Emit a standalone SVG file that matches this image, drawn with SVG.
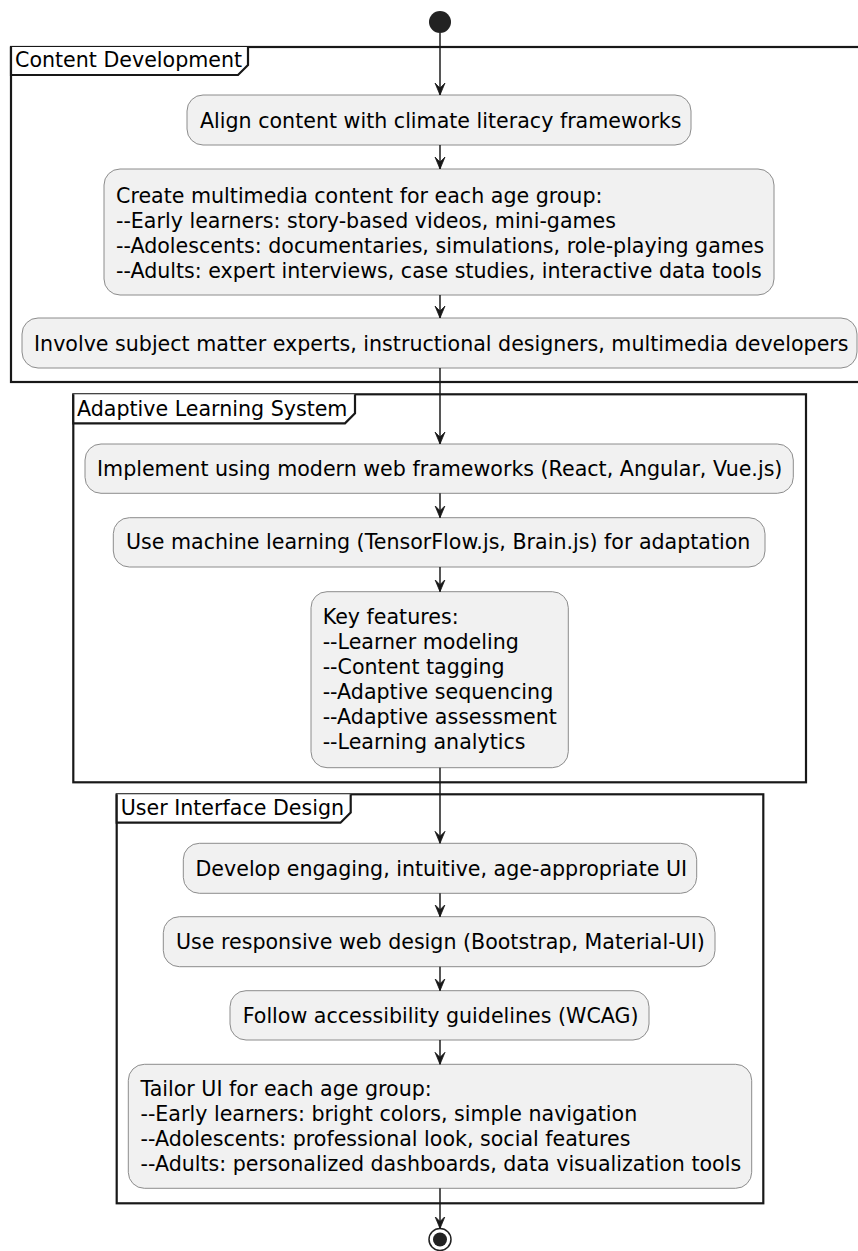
<svg xmlns="http://www.w3.org/2000/svg" width="858" height="1251" viewBox="0 0 858 1251">
<style>
  .frame{fill:none;stroke:#181818;stroke-width:2.2}
  .tab{fill:#ffffff;stroke:#181818;stroke-width:2.2}
  .node{fill:#F1F1F1;stroke:#8c8c8c;stroke-width:1}
  .t{font-family:"DejaVu Sans","Liberation Sans",sans-serif;font-size:20.6px;fill:#000}
  .edge{fill:none;stroke:#181818;stroke-width:1.46}
</style>
<defs>
  <marker id="arr" markerUnits="userSpaceOnUse" markerWidth="13" markerHeight="12" refX="12" refY="6" orient="auto" viewBox="0 0 13 12">
    <path d="M0,1 L12,6 L0,11 L5,6 Z" fill="#181818" stroke="#181818" stroke-width="0.8"/>
  </marker>
</defs>
<rect width="858" height="1251" fill="#ffffff"/>

<g id="partition-content">
  <rect class="frame" x="11" y="47" width="870" height="335"/>
  <path class="tab" d="M11,47 L11,75 L238,75 L248,65 L248,47"/>
  <text class="t" x="15" y="67">Content Development</text>
</g>
<g id="partition-adaptive">
  <rect class="frame" x="73.3" y="394.3" width="732.7" height="388"/>
  <path class="tab" d="M73.3,394.3 L73.3,423.3 L345,423.3 L355,413.3 L355,394.3"/>
  <text class="t" x="77" y="415.5">Adaptive Learning System</text>
</g>
<g id="partition-ui">
  <rect class="frame" x="116.7" y="794.3" width="646.6" height="409"/>
  <path class="tab" d="M116.7,794.3 L116.7,822.7 L340.5,822.7 L350.7,812.5 L350.7,794.3"/>
  <text class="t" x="120.7" y="815">User Interface Design</text>
</g>

<g id="start"><circle cx="440" cy="22" r="11" fill="#222222"/></g>

<g id="n1">
  <rect class="node" x="187" y="95" width="504" height="50" rx="16" ry="16"/>
  <text class="t" x="200" y="128">Align content with climate literacy frameworks</text>
</g>
<g id="n2">
  <rect class="node" x="104" y="169" width="670" height="126" rx="16" ry="16"/>
  <text class="t" x="116" y="203.3">Create multimedia content for each age group:</text>
  <text class="t" x="116" y="228.1">--Early learners: story-based videos, mini-games</text>
  <text class="t" x="116" y="252.9">--Adolescents: documentaries, simulations, role-playing games</text>
  <text class="t" x="116" y="277.7">--Adults: expert interviews, case studies, interactive data tools</text>
</g>
<g id="n3">
  <rect class="node" x="22" y="318" width="835" height="50" rx="16" ry="16"/>
  <text class="t" x="34" y="350.5">Involve subject matter experts, instructional designers, multimedia developers</text>
</g>
<g id="n4">
  <rect class="node" x="85" y="444" width="708.3" height="49.3" rx="16" ry="16"/>
  <text class="t" x="97" y="475.5">Implement using modern web frameworks (React, Angular, Vue.js)</text>
</g>
<g id="n5">
  <rect class="node" x="113.3" y="517.7" width="651.7" height="49.3" rx="16" ry="16"/>
  <text class="t" x="126" y="549">Use machine learning (TensorFlow.js, Brain.js) for adaptation</text>
</g>
<g id="n6">
  <rect class="node" x="311" y="591.7" width="257.3" height="176" rx="16" ry="16"/>
  <text class="t" x="322.7" y="623.5">Key features:</text>
  <text class="t" x="322.7" y="648.5">--Learner modeling</text>
  <text class="t" x="322.7" y="673.5">--Content tagging</text>
  <text class="t" x="322.7" y="698.5">--Adaptive sequencing</text>
  <text class="t" x="322.7" y="723.5">--Adaptive assessment</text>
  <text class="t" x="322.7" y="748.5">--Learning analytics</text>
</g>
<g id="n7">
  <rect class="node" x="183.3" y="843.3" width="513.4" height="50" rx="16" ry="16"/>
  <text class="t" x="195.5" y="875.7">Develop engaging, intuitive, age-appropriate UI</text>
</g>
<g id="n8">
  <rect class="node" x="163.3" y="916.7" width="551.7" height="50" rx="16" ry="16"/>
  <text class="t" x="176" y="949">Use responsive web design (Bootstrap, Material-UI)</text>
</g>
<g id="n9">
  <rect class="node" x="230" y="990.7" width="419" height="49.3" rx="16" ry="16"/>
  <text class="t" x="242.7" y="1022.5">Follow accessibility guidelines (WCAG)</text>
</g>
<g id="n10">
  <rect class="node" x="128.3" y="1064.3" width="623.4" height="124" rx="16" ry="16"/>
  <text class="t" x="140.5" y="1096">Tailor UI for each age group:</text>
  <text class="t" x="140.5" y="1120.9">--Early learners: bright colors, simple navigation</text>
  <text class="t" x="140.5" y="1145.8">--Adolescents: professional look, social features</text>
  <text class="t" x="140.5" y="1170.7">--Adults: personalized dashboards, data visualization tools</text>
</g>

<g id="end">
  <circle cx="440" cy="1239.5" r="11" fill="#ffffff" stroke="#222222" stroke-width="1.5"/>
  <circle cx="440" cy="1239.5" r="7" fill="#222222"/>
</g>

<g id="connectors">
  <line class="edge" x1="440" y1="33" x2="440" y2="95" marker-end="url(#arr)"/>
  <line class="edge" x1="440" y1="145" x2="440" y2="169" marker-end="url(#arr)"/>
  <line class="edge" x1="440" y1="295" x2="440" y2="318" marker-end="url(#arr)"/>
  <line class="edge" x1="440" y1="368" x2="440" y2="444" marker-end="url(#arr)"/>
  <line class="edge" x1="440" y1="493.3" x2="440" y2="517.7" marker-end="url(#arr)"/>
  <line class="edge" x1="440" y1="567" x2="440" y2="591.7" marker-end="url(#arr)"/>
  <line class="edge" x1="440" y1="767.7" x2="440" y2="843.3" marker-end="url(#arr)"/>
  <line class="edge" x1="440" y1="893.3" x2="440" y2="916.7" marker-end="url(#arr)"/>
  <line class="edge" x1="440" y1="966.7" x2="440" y2="990.7" marker-end="url(#arr)"/>
  <line class="edge" x1="440" y1="1040" x2="440" y2="1064.3" marker-end="url(#arr)"/>
  <line class="edge" x1="440" y1="1188.3" x2="440" y2="1228.5" marker-end="url(#arr)"/>
</g>
</svg>
